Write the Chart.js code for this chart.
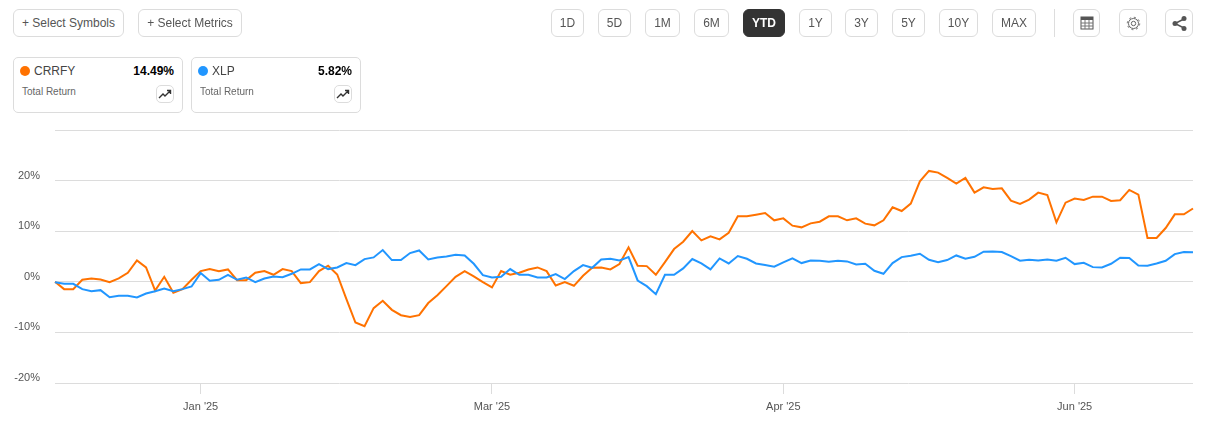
<!DOCTYPE html>
<html>
<head>
<meta charset="utf-8">
<title>CRRFY vs XLP Total Return</title>
<script src="https://cdn.jsdelivr.net/npm/chart.js"></script>
<style>
  html, body { margin: 0; padding: 0; background: #fff; }
  body { width: 1208px; height: 432px; position: relative; overflow: hidden; font-family: "Liberation Sans", Arial, sans-serif; color: #555; }
  canvas { position: absolute; left: 0; top: 0; }
  .btn { position: absolute; top: 9px; height: 26px; line-height: 26px; border: 1px solid #dcdcdc; border-radius: 6px; background: #fff; text-align: center; font-size: 12px; color: #555; box-sizing: content-box; }
  .btn.active { background: #333; border-color: #333; color: #fff; font-weight: bold; }
  .btn svg { position: absolute; left: 0; top: 0; }
  .sep { position: absolute; left: 1054px; top: 9px; width: 1px; height: 28px; background: #ddd; }
  .card { position: absolute; top: 57px; width: 168px; height: 54px; border: 1px solid #dcdcdc; border-radius: 5px; background: #fff; }
  .dot { position: absolute; left: 6px; top: 8px; width: 10px; height: 10px; border-radius: 50%; }
  .sym { position: absolute; left: 20px; top: 5px; font-size: 12px; line-height: 16px; color: #444; }
  .val { position: absolute; right: 8px; top: 5px; font-size: 12px; line-height: 16px; font-weight: bold; color: #000; }
  .sub { position: absolute; left: 8px; top: 27px; font-size: 10px; line-height: 14px; color: #666; }
  .trend { position: absolute; left: 142px; top: 27px; width: 16px; height: 16px; border: 1px solid #dcdcdc; border-radius: 5px; }
</style>
</head>
<body>
<canvas id="chart" width="1208" height="432"></canvas>
<div id="top"></div>
<div class="sep"></div>
<div class="card" style="left:13px">
  <span class="dot" style="background:#ff7200"></span><span class="sym">CRRFY</span><span class="val">14.49%</span>
  <span class="sub">Total Return</span>
  <span class="trend"><svg width="16" height="16"><path d="M2 12 L6 8 L8 10 L13 5 M10 4.5 H13.5 V8" fill="none" stroke="#333" stroke-width="1.4"/></svg></span>
</div>
<div class="card" style="left:191px">
  <span class="dot" style="background:#2196ff"></span><span class="sym">XLP</span><span class="val">5.82%</span>
  <span class="sub">Total Return</span>
  <span class="trend"><svg width="16" height="16"><path d="M2 12 L6 8 L8 10 L13 5 M10 4.5 H13.5 V8" fill="none" stroke="#333" stroke-width="1.4"/></svg></span>
</div>
<script>
// values, % total return
const crrfy = [
  0, -1.45, -1.45, 0.4, 0.66, 0.46, -0.07, 0.66, 1.78, 4.22,
  2.84, -1.72, 0.99, -2.18, -1.45, 0.4, 2.11, 2.51, 2.11, 2.44,
  0.33, 0.33, 1.78, 2.11, 1.39, 2.51, 2.11, -0.26, -0.07, 2.11,
  3.17, 1.45, -3.37, -8.05, -8.78, -5.2, -3.76, -5.54, -6.6, -6.93,
  -6.6, -4.2, -2.64, -0.86, 0.99, 2.11, 1.06, -0.07, -1.12, 2.11,
  1.39, 1.78, 2.44, 2.84, 2.11, -0.73, -0.07, -0.79, 1.2, 2.77,
  2.84, 2.44, 3.5, 6.8, 3.17, 3.1, 1.39, 3.89, 6.47, 7.92,
  10.03, 8.18, 8.98, 8.38, 9.7, 12.94, 12.94, 13.27, 13.6, 12.15,
  12.54, 11.09, 10.76, 11.55, 11.88, 12.94, 12.94, 12.15, 12.54, 11.49,
  11.16, 12.15, 14.72, 13.99, 15.45, 19.87, 21.91, 21.58, 20.53, 19.41,
  20.53, 17.62, 18.68, 18.35, 18.48, 16.04, 15.38, 16.24, 17.62, 17.16,
  11.75, 15.64, 16.44, 16.17, 16.83, 16.83, 15.97, 16.11, 18.15, 17.23,
  8.65, 8.65, 10.63, 13.33, 13.33, 14.49
];
const xlp = [
  -0.07, -0.4, -0.4, -1.45, -1.85, -1.65, -3.04, -2.77, -2.77, -3.1,
  -2.31, -1.85, -1.32, -1.85, -1.45, -0.92, 1.72, 0.2, 0.4, 1.39,
  0.4, 0.86, -0.07, 0.66, 1.06, 0.92, 1.58, 2.44, 2.44, 3.5,
  2.51, 2.84, 3.7, 3.3, 4.49, 4.82, 6.27, 4.29, 4.29, 5.68,
  6.2, 4.42, 4.82, 5.02, 5.35, 5.2, 3.56, 1.32, 0.86, 0.99,
  2.51, 1.39, 1.39, 0.86, 0.86, 1.52, 0.53, 2.11, 3.3, 2.77,
  4.42, 4.55, 4.22, 4.88, 0.26, -0.86, -2.44, 1.39, 1.39, 2.64,
  4.49, 3.63, 2.44, 4.62, 3.63, 5.08, 4.55, 3.63, 3.3, 2.97,
  3.83, 4.62, 3.7, 4.22, 4.16, 3.96, 4.16, 4.03, 3.43, 3.56,
  2.18, 1.58, 3.7, 4.88, 5.15, 5.54, 4.36, 3.89, 4.29, 5.21,
  4.55, 4.95, 5.94, 6.01, 5.87, 5.08, 4.16, 4.36, 4.22, 4.42,
  4.16, 4.75, 3.5, 3.76, 2.9, 2.84, 3.56, 4.75, 4.69, 3.23,
  3.17, 3.63, 4.16, 5.48, 5.87, 5.82
];
const tickIndex = [16, 48, 80, 112];
const tickLabels = ["Jan '25", "Mar '25", "Apr '25", "Jun '25"];
const yTicks = [-20, -10, 0, 10, 20, 30];
const categories = crrfy.map((v, i) => {
  const k = tickIndex.indexOf(i);
  return k >= 0 ? tickLabels[k] : '';
});

// toolbar
const rangeButtons = [
  ['1D', 551, 33], ['5D', 598, 33], ['1M', 645, 35], ['6M', 694, 35], ['YTD', 743, 42],
  ['1Y', 799, 33], ['3Y', 845, 33], ['5Y', 892, 33], ['10Y', 939, 39], ['MAX', 992, 44]
];
const topEl = document.getElementById('top');
function addBtn(text, left, width, active) {
  const b = document.createElement('div');
  b.className = 'btn' + (active ? ' active' : '');
  b.style.left = left + 'px';
  b.style.width = (width - 2) + 'px';
  b.innerHTML = text;
  topEl.appendChild(b);
}
addBtn('+ Select Symbols', 13, 111);
addBtn('+ Select Metrics', 138, 104);
rangeButtons.forEach(r => addBtn(r[0], r[1], r[2], r[0] === 'YTD'));
addBtn('<svg width="26" height="26"><rect x="7" y="7" width="12" height="12" fill="none" stroke="#555"/><rect x="7" y="7" width="12" height="3" fill="#555"/><path d="M7 13H19M7 16H19M11 10V19M15 10V19" stroke="#777" stroke-width="1"/></svg>', 1073, 27);
addBtn('<svg width="26" height="26"><circle cx="13.5" cy="13.5" r="2.2" fill="none" stroke="#666"/><circle cx="13.5" cy="13.5" r="5" fill="none" stroke="#666"/><circle cx="13.5" cy="13.5" r="6.2" fill="none" stroke="#666" stroke-dasharray="2 2.8"/></svg>', 1119, 28);
addBtn('<svg width="26" height="26"><path d="M9 13.5L18 9M9 13.5L18 18" stroke="#555" stroke-width="1.4"/><circle cx="9" cy="13.5" r="2.5" fill="#555"/><circle cx="18" cy="8.5" r="2.5" fill="#555"/><circle cx="18" cy="18.5" r="2.5" fill="#555"/></svg>', 1165, 28);

new Chart(document.getElementById('chart'), {
  type: 'line',
  data: {
    labels: categories,
    datasets: [
      { label: 'CRRFY', data: crrfy, borderColor: '#ff7200', borderWidth: 2, pointRadius: 0, tension: 0, order: 2 },
      { label: 'XLP', data: xlp, borderColor: '#2196ff', borderWidth: 2, pointRadius: 0, tension: 0, order: 1 }
    ]
  },
  options: {
    responsive: false,
    animation: false,
    devicePixelRatio: 1,
    layout: { padding: { left: 0, right: 15, top: 130, bottom: 0 } },
    plugins: { legend: { display: false }, tooltip: { enabled: false } },
    scales: {
      x: {
        type: 'category',
        offset: false,
        border: { display: false },
        grid: { drawOnChartArea: false, drawTicks: true, tickLength: 11, tickColor: '#dcdcdc', offset: false },
        afterBuildTicks: s => { s.ticks = tickIndex.map(v => ({ value: v })); },
        afterFit: s => { s.height = 49; },
        ticks: {
          autoSkip: false, maxRotation: 0, minRotation: 0, padding: 6,
          color: '#555', font: { family: '"Liberation Sans", Arial, sans-serif', size: 11 }
        }
      },
      y: {
        min: -20,
        max: 30,
        border: { display: false },
        grid: { color: '#dcdcdc', drawTicks: false },
        afterBuildTicks: s => { s.ticks = yTicks.map(v => ({ value: v })); },
        afterFit: s => { s.width = 55; },
        ticks: {
          padding: 15, labelOffset: -5,
          color: '#555', font: { family: '"Liberation Sans", Arial, sans-serif', size: 11 },
          callback: v => v === 30 ? '' : v + '%'
        }
      }
    }
  }
});
</script>
</body>
</html>
